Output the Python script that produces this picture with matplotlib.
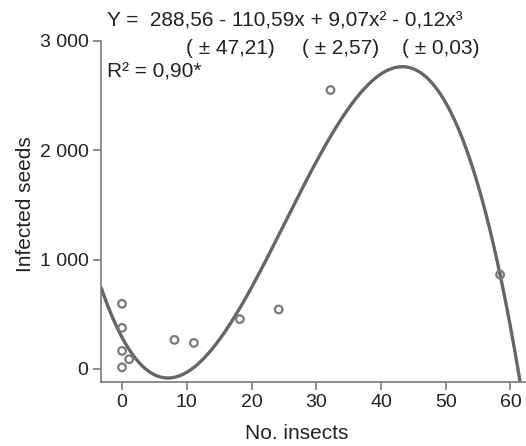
import numpy as np
import matplotlib
matplotlib.use("Agg")
import matplotlib.pyplot as plt
from matplotlib.ticker import FuncFormatter

#-----------------------------
# observed points (No. insects, infected seeds)
insects = [0, 0, 0, 1.1, 0, 8.1, 11.1, 18.2, 24.2, 32.2, 58.4]
seeds = [596, 376, 165, 89, 15, 266, 238, 456, 544, 2550, 862]

# fitted cubic: Y = b0 + b1 x + b2 x^2 + b3 x^3
coefs = [288.56, -110.59, 9.07, -0.12]

eq_line = "Y =  288,56 - 110,59x + 9,07x\u00b2 - 0,12x\u00b3"
se_labels = ["( \u00b1 47,21)", "( \u00b1 2,57)", "( \u00b1 0,03)"]
r2_label = "R\u00b2 = 0,90*"

xticks = [0, 10, 20, 30, 40, 50, 60]
yticks = [0, 1000, 2000, 3000]
#-----------------------------

plt.rcParams['font.family'] = ['Liberation Sans', 'DejaVu Sans']
tick_fs = 14
text_fs = 15
axis_gray = '#7a7a7a'
line_gray = '#666666'
text_col = '#222222'

fig = plt.figure(figsize=(5.26, 4.46), dpi=100)
ax = fig.add_axes([0.192, 0.1435, 0.808, 0.765])

xs = np.linspace(-3.25, 62.4, 400)
ys = np.polyval(coefs[::-1], xs)
ax.plot(xs, ys, color=line_gray, linewidth=2.4, solid_capstyle='butt', zorder=2)

ax.scatter(insects, seeds, s=30, facecolors='none', edgecolors=axis_gray,
           linewidths=1.6, zorder=3, clip_on=False)

ax.set_xlim(-3.25, 62.4)
ax.set_ylim(-119, 3000)
ax.set_xticks(xticks)
ax.set_yticks(yticks)
ax.yaxis.set_major_formatter(FuncFormatter(lambda v, p: f"{int(v):,}".replace(",", " ")))

for side in ['top', 'right']:
    ax.spines[side].set_visible(False)
for side in ['left', 'bottom']:
    ax.spines[side].set_color(axis_gray)
    ax.spines[side].set_linewidth(1.2)
ax.tick_params(direction='out', length=6, width=1.2, color=axis_gray,
               labelsize=tick_fs, labelcolor=text_col, pad=3)

ax.set_xlabel("No. insects", fontsize=text_fs, color=text_col)
ax.xaxis.set_label_coords(0.461, -0.124)
ax.set_ylabel("Infected seeds", fontsize=text_fs, color=text_col)
ax.yaxis.set_label_coords(-0.155, 0.522)

fig.text(107 / 526, 1 - 21 / 446, eq_line, fontsize=text_fs, color=text_col, va='center')
for xp, lab in zip([186, 302, 402], se_labels):
    fig.text(xp / 526, 1 - 48 / 446, lab, fontsize=text_fs, color=text_col, va='center')
fig.text(107 / 526, 1 - 72 / 446, r2_label, fontsize=text_fs, color=text_col, va='center')

fig.savefig("out.png", dpi=100)
